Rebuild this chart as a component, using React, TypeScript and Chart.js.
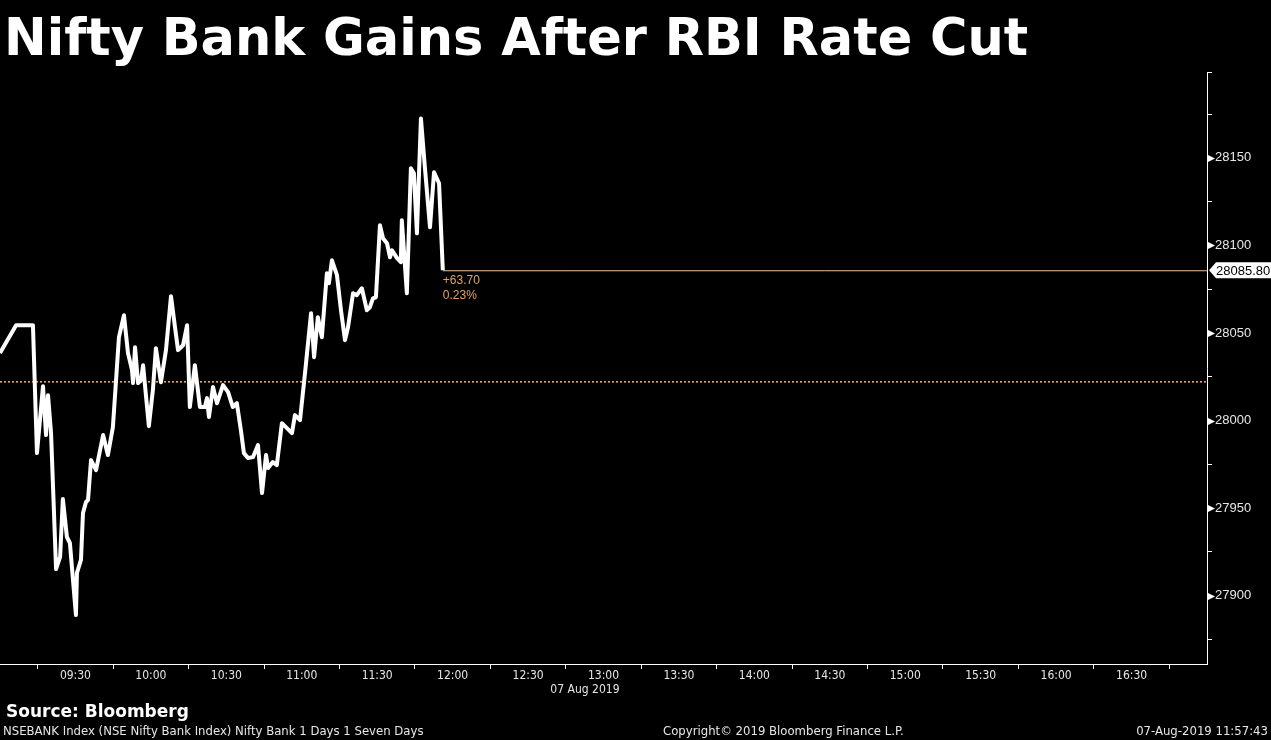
import { useEffect, useRef } from 'react';
import { Chart, registerables } from 'chart.js';
import type { ChartConfiguration, Plugin } from 'chart.js';
import React from 'react';

Chart.register(...registerables);

// minutes after 09:00 and the index level at that moment
const minutesFromNine = [
  0, 6.4, 13.1, 14.7, 17.1, 18.3, 19.1, 20.3, 22.3, 23.9, 25.0, 26.6, 27.8, 30.2, 30.6, 32.2,
  33.0, 34.2, 35.0, 36.2, 38.2, 41.0, 42.9, 44.9, 47.3, 49.3, 50.9, 52.5, 52.9, 53.7, 54.9,
  56.1, 56.9, 59.2, 60.8, 62.0, 64.0, 66.0, 68.0, 69.6, 70.8, 72.8, 74.4, 75.5, 77.5, 79.5,
  81.5, 82.3, 83.1, 84.7, 86.3, 88.7, 90.7, 92.6, 94.2, 95.8, 97.0, 98.6, 100.6, 102.6, 104.2,
  105.8, 106.6, 108.5, 110.1, 112.1, 114.1, 116.1, 117.3, 119.3, 121.3, 123.7, 124.9, 126.4,
  128.0, 130.0, 130.8, 132.0, 134.0, 135.6, 137.2, 138.4, 140.4, 141.9, 143.9, 145.9, 147.1,
  148.3, 149.5, 151.1, 152.3, 153.9, 155.1, 155.9, 157.9, 159.4, 159.8, 161.8, 163.4, 164.6,
  165.8, 167.4, 169.0, 171.0, 172.6, 174.6, 176.1,
];
const niftyBank = [
  28038.5, 28054.4, 28054.4, 27981.4, 28019.6, 27991.7, 28014.5, 27992.8, 27915.2, 27922.1,
  27955.2, 27933.5, 27930.1, 27889.0, 27913.0, 27920.4, 27947.2, 27953.5, 27954.6, 27977.4,
  27971.7, 27991.7, 27980.3, 27996.3, 28047.6, 28060.1, 28038.5, 28028.8, 28021.4, 28041.9,
  28021.4, 28023.1, 28031.6, 27996.8, 28017.4, 28041.3, 28021.9, 28040.2, 28071.0, 28053.3,
  28040.2, 28043.0, 28054.4, 28007.7, 28031.6, 28007.7, 28007.7, 28012.8, 28002.0, 28019.1,
  28009.9, 28020.2, 28016.2, 28007.7, 28009.9, 27994.5, 27981.4, 27978.6, 27979.1, 27986.0,
  27958.6, 27980.3, 27972.9, 27976.3, 27974.6, 27998.5, 27995.7, 27992.8, 28003.1, 28000.2,
  28027.1, 28061.3, 28036.2, 28059.0, 28047.6, 28084.1, 28078.4, 28091.5, 28083.0, 28063.0,
  28045.9, 28053.3, 28072.7, 28071.6, 28075.5, 28063.0, 28064.7, 28069.8, 28070.4, 28111.5,
  28104.1, 28101.2, 28093.2, 28097.2, 28092.7, 28090.4, 28114.3, 28072.7, 28144.0, 28141.2,
  28106.9, 28172.5, 28144.0, 28110.3, 28141.7, 28135.5, 28085.8,
];

const prevClose = 28022.1;
const lastValue = 28085.8;
const lastLabel = '28085.80';
const changeText = '+63.70';
const changePct = '0.23%';
const dateLabel = '07 Aug 2019';
const dateUnder = '13:00';

const xLabelTimes = ['09:30', '10:00', '10:30', '11:00', '11:30', '12:00', '12:30', '13:00',
  '13:30', '14:00', '14:30', '15:00', '15:30', '16:00', '16:30'];
const xMarkTimes = ['09:15', '09:45', '10:15', '10:45', '11:15', '11:45', '12:15', '12:45',
  '13:15', '13:45', '14:15', '14:45', '15:15', '15:45', '16:15', '16:45'];
const yMajorTicks = [27900, 27950, 28000, 28050, 28100, 28150];
const yMinorTicks = [27875, 27925, 27975, 28025, 28075, 28125, 28175];
const yMin = 27861;
const yMax = 28199;

const toMin = (t: string) => {
  const [h, m] = t.split(':').map(Number);
  return (h - 9) * 60 + m;
};
const fromMin = (v: number) => {
  const h = Math.floor(v / 60) + 9;
  const m = v % 60;
  return `${String(h).padStart(2, '0')}:${String(m).padStart(2, '0')}`;
};

const ORANGE_TEXT = '#e8a35e';
const ORANGE_LINE = '#f3c29a';
const DOTTED = '#e0aa6e';

const overlay: Plugin<'line'> = {
  id: 'overlay',
  beforeDatasetsDraw(chart) {
    const { ctx, chartArea, scales } = chart;
    const y = scales.y.getPixelForValue(prevClose);
    ctx.save();
    ctx.strokeStyle = DOTTED;
    ctx.lineWidth = 1.6;
    ctx.setLineDash([2, 2]);
    ctx.beginPath();
    ctx.moveTo(chartArea.left, y);
    ctx.lineTo(chartArea.right, y);
    ctx.stroke();
    ctx.restore();
  },
  afterDatasetsDraw(chart) {
    const { ctx, chartArea, scales } = chart;
    const x = scales.x.getPixelForValue(minutesFromNine[minutesFromNine.length - 1]);
    const y = scales.y.getPixelForValue(lastValue);
    ctx.save();
    ctx.strokeStyle = ORANGE_LINE;
    ctx.lineWidth = 1;
    ctx.beginPath();
    ctx.moveTo(x, y + 0.5);
    ctx.lineTo(chartArea.right, y + 0.5);
    ctx.stroke();
    ctx.fillStyle = ORANGE_TEXT;
    ctx.font = '12px "Liberation Sans", sans-serif';
    ctx.textBaseline = 'middle';
    ctx.textAlign = 'left';
    ctx.fillText(changeText, x, y + 10);
    ctx.fillText(changePct, x, y + 25);
    ctx.restore();
  },
  afterDraw(chart) {
    const { ctx, chartArea, scales } = chart;
    const right = chartArea.right;
    ctx.save();
    ctx.fillStyle = '#ffffff';
    yMajorTicks.forEach((v) => {
      const y = Math.round(scales.y.getPixelForValue(v)) + 0.5;
      ctx.beginPath();
      ctx.moveTo(right, y - 4);
      ctx.lineTo(right + 8, y);
      ctx.lineTo(right, y + 4);
      ctx.closePath();
      ctx.fill();
    });
    // last value box
    const yv = scales.y.getPixelForValue(lastValue);
    ctx.beginPath();
    ctx.moveTo(right + 2, yv);
    ctx.lineTo(right + 9, yv - 8);
    ctx.lineTo(chart.width, yv - 8);
    ctx.lineTo(chart.width, yv + 8);
    ctx.lineTo(right + 9, yv + 8);
    ctx.closePath();
    ctx.fill();
    ctx.fillStyle = '#000';
    ctx.font = '13px "Liberation Sans", sans-serif';
    ctx.textBaseline = 'middle';
    ctx.fillText(lastLabel, right + 9, yv + 1);
    // date under the x axis
    const xd = scales.x.getPixelForValue(toMin(dateUnder));
    ctx.fillStyle = '#e6e6e6';
    ctx.font = '12px "DejaVu Sans Condensed", sans-serif';
    ctx.textAlign = 'right';
    ctx.fillText(dateLabel, xd + 16, chartArea.bottom + 26);
    ctx.restore();
  },
};

const NiftyChart = () => {
  const canvasRef = useRef<HTMLCanvasElement>(null);

  useEffect(() => {
    if (!canvasRef.current) {
      return;
    }
    const labelMins = xLabelTimes.map(toMin);
    const config: ChartConfiguration<'line'> = {
      type: 'line',
      data: {
        datasets: [
          {
            label: 'NSEBANK Index',
            data: minutesFromNine.map((m, i) => ({ x: m, y: niftyBank[i] })),
            borderColor: '#ffffff',
            borderWidth: 4,
            pointRadius: 0,
            tension: 0,
            borderJoinStyle: 'round',
          },
        ],
      },
      options: {
        animation: false,
        responsive: true,
        maintainAspectRatio: false,
        events: [],
        layout: { padding: { top: 72, bottom: 46, left: 0, right: 0 } },
        plugins: { legend: { display: false }, tooltip: { enabled: false } },
        scales: {
          x: {
            type: 'linear',
            min: 0,
            max: 480,
            afterBuildTicks: (scale) => {
              const vals = [...labelMins, ...xMarkTimes.map(toMin)].sort((a, b) => a - b);
              scale.ticks = vals.map((value) => ({ value }));
            },
            afterFit: (scale) => {
              scale.height = 30;
            },
            border: { color: '#ffffff', width: 1 },
            grid: {
              drawOnChartArea: false,
              tickLength: 5,
              tickColor: (c) => (c.tick && c.tick.value % 30 === 15 ? '#ffffff' : 'rgba(0,0,0,0)'),
            },
            ticks: {
              autoSkip: false,
              maxRotation: 0,
              padding: 0,
              color: '#e6e6e6',
              font: { family: '"DejaVu Sans Condensed", sans-serif', size: 12 },
              callback: (v) => (labelMins.includes(Number(v)) ? fromMin(Number(v)) : ''),
            },
          },
          y: {
            type: 'linear',
            position: 'right',
            min: yMin,
            max: yMax,
            afterBuildTicks: (scale) => {
              const vals = [...yMinorTicks, ...yMajorTicks, yMax].sort((a, b) => a - b);
              scale.ticks = vals.map((value) => ({ value }));
            },
            afterFit: (scale) => {
              scale.width = 64;
            },
            border: { color: '#ffffff', width: 1 },
            grid: {
              drawOnChartArea: false,
              tickLength: 5,
              tickColor: (c) =>
                c.tick && yMajorTicks.includes(c.tick.value) ? 'rgba(0,0,0,0)' : '#ffffff',
            },
            ticks: {
              padding: 3,
              color: '#e6e6e6',
              font: { family: '"Liberation Sans", sans-serif', size: 13 },
              callback: (v) => (yMajorTicks.includes(Number(v)) ? String(v) : ''),
            },
          },
        },
      },
      plugins: [overlay],
    };
    const chart = new Chart(canvasRef.current, config);
    return () => {
      chart.destroy();
    };
  }, []);

  return <canvas ref={canvasRef} />;
};

const App = () => {
  const text: React.CSSProperties = {
    position: 'absolute',
    whiteSpace: 'nowrap',
    color: '#ffffff',
  };
  const footer = '13px/13px "DejaVu Sans Condensed", sans-serif';
  return (
    <div
      style={{
        position: 'fixed',
        left: 0,
        top: 0,
        width: 1271,
        height: 740,
        background: '#000',
        overflow: 'hidden',
      }}
    >
      <div style={{ position: 'absolute', left: 0, top: 0, width: 1271, height: 740 }}>
        <NiftyChart />
      </div>
      <div
        style={{
          ...text,
          left: 4,
          top: 12,
          font: 'bold 51px/51px "DejaVu Sans", sans-serif',
        }}
      >
        Nifty Bank Gains After RBI Rate Cut
      </div>
      <div style={{ ...text, left: 6, top: 703, font: 'bold 17px/17px "DejaVu Sans", sans-serif' }}>
        Source: Bloomberg
      </div>
      <div style={{ ...text, left: 3, top: 724, color: '#e6e6e6', font: footer }}>
        NSEBANK Index (NSE Nifty Bank Index) Nifty Bank 1 Days 1 Seven Days
      </div>
      <div style={{ ...text, left: 663, top: 724, color: '#e6e6e6', font: footer }}>
        Copyright© 2019 Bloomberg Finance L.P.
      </div>
      <div style={{ ...text, right: 3, top: 724, color: '#e6e6e6', font: footer }}>
        07-Aug-2019 11:57:43
      </div>
    </div>
  );
};

export default App;
